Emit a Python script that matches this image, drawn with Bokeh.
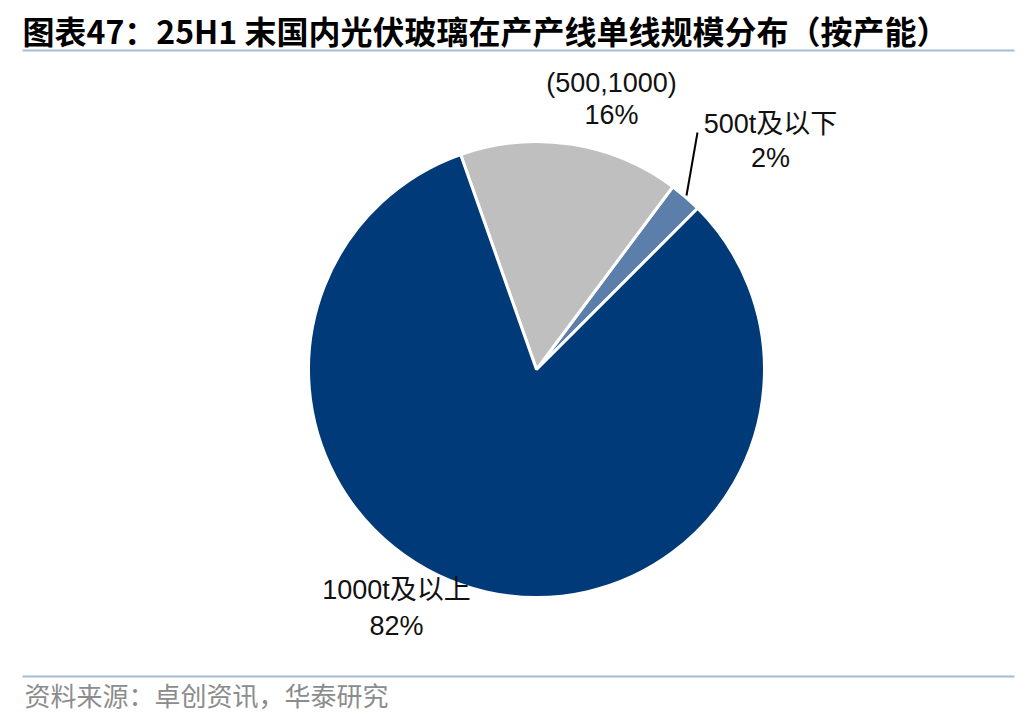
from bokeh.plotting import figure
from bokeh.models import Range1d
from bokeh.core.properties import value
from bokeh.embed import file_html
from bokeh.resources import INLINE
import math

# ---- data ----
categories = ["500t及以下", "(500,1000)", "1000t及以上"]
shares = [2.3, 15.6, 82.1]
pct_labels = ["2%", "16%", "82%"]
colors = ["#5B7FAA", "#BFBFBF", "#003A78"]

title = "图表47：25H1 末国内光伏玻璃在产产线单线规模分布（按产能）"
source_note = "资料来源：卓创资讯，华泰研究"

# ---- layout (screenshot pixel coordinates) ----
W, H = 1020, 712
def Y(py):
    return 728 - py

cx, cy, r = 536, Y(369), 228
start_deg = 45.0
label_pos = [(770, 123, 157), (611, 82, 114), (396, 589, 625)]

p = figure(width=W, height=H, output_backend="svg", toolbar_location=None,
           x_range=Range1d(0, W), y_range=Range1d(728 - H, 728),
           min_border=0, outline_line_color=None, background_fill_color="white",
           border_fill_color="white")
p.axis.visible = False
p.grid.visible = False

total = sum(shares)
a = math.radians(start_deg)
for s, c in zip(shares, colors):
    b = a + 2 * math.pi * s / total
    p.wedge(x=cx, y=cy, radius=r, start_angle=a, end_angle=b, direction="anticlock",
            fill_color=c, line_color="white", line_width=3)
    a = b

label_font = value("Liberation Sans, Noto Sans CJK SC")
for cat, pl, (lx, ly1, ly2) in zip(categories, pct_labels, label_pos):
    p.text(x=[lx], y=[Y(ly1)], text=[cat], text_font=label_font, text_font_size="27px",
           text_align="center", text_baseline="middle", text_color="#111111")
    p.text(x=[lx], y=[Y(ly2)], text=[pl], text_font=label_font, text_font_size="27px",
           text_align="center", text_baseline="middle", text_color="#111111")

# leader line for small slice
p.line(x=[697, 686], y=[Y(132), Y(195)], line_color="black", line_width=2)

# title and source
p.text(x=[22], y=[Y(29)], text=[title], text_font=value("Noto Sans CJK SC"),
       text_font_size="32px", text_font_style="bold", text_align="left",
       text_baseline="middle", text_color="black")
p.line(x=[22, 1014], y=[Y(50), Y(50)], line_color="#A7BBD4", line_width=2)
p.line(x=[22, 1014], y=[Y(676), Y(676)], line_color="#A7BBD4", line_width=2)
p.text(x=[24], y=[Y(694)], text=[source_note], text_font=value("Noto Sans CJK SC"),
       text_font_size="26px", text_align="left", text_baseline="middle",
       text_color="#8C8C8C")

open("out.html", "w").write(file_html(p, INLINE))
